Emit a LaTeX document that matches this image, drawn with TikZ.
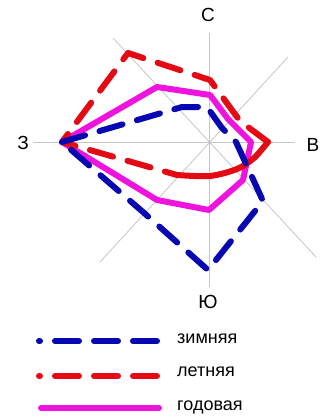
\documentclass[tikz,border=0pt]{standalone}
\usepackage{fontspec}
\setmainfont{Liberation Sans}
\usepackage{xcolor}
\usetikzlibrary{positioning}

\definecolor{winterblue}{RGB}{8,8,178}
\definecolor{summerred}{RGB}{228,10,20}
\definecolor{annualpink}{RGB}{238,20,222}

\begin{document}
\begin{tikzpicture}[
        x=1pt, y=-1pt,
        axis/.style={line width=0.8pt, color=gray!45},
        roseline/.style={line width=6pt, line cap=round, line join=round},
        winter/.style={roseline, color=winterblue, dash pattern=on 24pt off 15pt},
        summer/.style={roseline, color=summerred, dash pattern=on 24pt off 15pt},
        annual/.style={roseline, color=annualpink},
        compass/.style={font=\fontsize{19}{21}\selectfont, inner sep=0pt},
        legendtext/.style={font=\fontsize{18}{20}\selectfont, inner sep=0pt, anchor=base west}
    ]
                \useasboundingbox (0,0) rectangle (334,420);

                % axes of the rose
                \coordinate (westEnd) at (33,142);
                \coordinate (eastEnd) at (295,142);
                \coordinate (northEnd) at (209,33);
                \coordinate (southEnd) at (209,287);
                \coordinate (nwEnd) at (113,38);
                \coordinate (seEnd) at (316,257);
                \coordinate (neEnd) at (288,57);
                \coordinate (swEnd) at (100,262);

                \draw[axis] (westEnd) -- (eastEnd);
                \draw[axis] (northEnd) -- (southEnd);
                \draw[axis] (nwEnd) -- (seEnd);
                \draw[axis] (neEnd) -- (swEnd);

                \node[compass] (west) at (23,143) {З};
                \node[compass] (east) at (313,145) {В};
                \node[compass] (north) at (208,15) {С};
                \node[compass] (south) at (208,302) {Ю};

                % annual
                \draw[annual]
                    (62,142) -- (157,87) -- (210,95) -- (228,119) -- (251,142)
                    -- (243,180) -- (209,210) -- (157,200) -- cycle;

                % summer
                \draw[summer]
                    (268,142) -- (240,121) -- (210,80) -- (128,53) -- (62,142) -- (177,175);
                \draw[summer, solid]
                    plot[smooth] coordinates {(177,175) (210,176) (237,169) (254,158) (268,142)};

                % winter
                \draw[winter]
                    (62,142) -- (182,107) -- (207,107) -- (222,128) -- (236,142)
                    -- (263,201) -- (208,270) -- (143,212) -- cycle;

                % legend
                \coordinate (winterStart) at (39,341);
                \coordinate (winterEnd) at (159,341);
                \coordinate (summerStart) at (39,376);
                \coordinate (summerEnd) at (159,376);
                \coordinate (annualStart) at (41,408);
                \coordinate (annualEnd) at (159,408);

                \draw[winter, dash phase=23pt] (winterStart) -- (winterEnd);
                \draw[summer, dash phase=23pt] (summerStart) -- (summerEnd);
                \draw[annual] (annualStart) -- (annualEnd);

                \node[legendtext] (winterLabel) at (177,343) {зимняя};
                \node[legendtext] (summerLabel) at (177,376) {летняя};
                \node[legendtext] (annualLabel) at (177,410) {годовая};
\end{tikzpicture}
\end{document}
